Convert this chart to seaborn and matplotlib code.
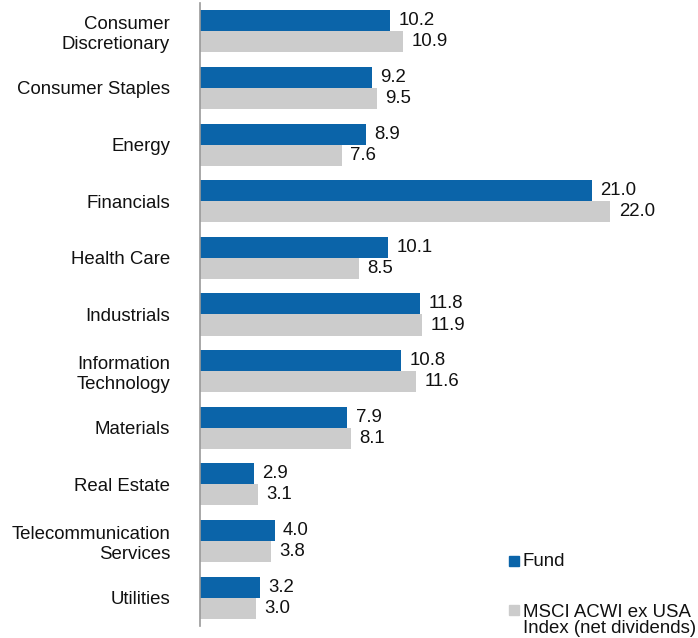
import matplotlib
matplotlib.use("Agg")
import matplotlib.pyplot as plt
from matplotlib.patches import Rectangle
import seaborn as sns
import pandas as pd

sectors = ["Consumer\nDiscretionary", "Consumer Staples", "Energy", "Financials",
           "Health Care", "Industrials", "Information\nTechnology", "Materials",
           "Real Estate", "Telecommunication\nServices", "Utilities"]
fund = [10.2, 9.2, 8.9, 21.0, 10.1, 11.8, 10.8, 7.9, 2.9, 4.0, 3.2]
index = [10.9, 9.5, 7.6, 22.0, 8.5, 11.9, 11.6, 8.1, 3.1, 3.8, 3.0]
series = ["Fund", "MSCI ACWI ex USA\nIndex (net dividends)"]
colors = ["#0b64a9", "#cccccc"]

df = pd.DataFrame({
    "sector": sectors * 2,
    "value": fund + index,
    "series": [series[0]] * len(sectors) + [series[1]] * len(sectors),
})

sns.set_theme(style="white")
plt.rcParams["font.family"] = ["Liberation Sans", "DejaVu Sans"]
FS = 13.4

fig = plt.figure(figsize=(6.98, 6.38), dpi=100)
ax = fig.add_axes([200 / 698, 12 / 638, 1 - 200 / 698, 623 / 638])

sns.barplot(data=df, x="value", y="sector", hue="series", palette=colors,
            orient="h", width=0.742, legend=False, ax=ax, saturation=1,
            linewidth=0, edgecolor="none")

for cont in ax.containers:
    ax.bar_label(cont, fmt="%.1f", padding=6, fontsize=FS, color="#111111")

ax.set_xlim(0, 26.7)
ax.set_ylim(10.5, -0.5)
ax.set_xlabel("")
ax.set_ylabel("")
ax.set_xticks([])
for s in ["top", "right", "bottom"]:
    ax.spines[s].set_visible(False)
ax.spines["left"].set_color("#999999")
ax.spines["left"].set_linewidth(1.2)
ax.tick_params(axis="y", length=0, pad=21.5, labelsize=FS, labelcolor="#111111")

# legend
fig.add_artist(Rectangle((509 / 698, 1 - 566 / 638), 10 / 698, 10 / 638,
                         transform=fig.transFigure, color=colors[0]))
fig.add_artist(Rectangle((509 / 698, 1 - 615 / 638), 10 / 698, 10 / 638,
                         transform=fig.transFigure, color=colors[1]))
fig.text(523 / 698, 1 - 566 / 638, series[0], fontsize=FS, va="baseline", color="#111111")
lines = series[1].split("\n")
fig.text(523 / 698, 1 - 617 / 638, lines[0], fontsize=FS, va="baseline", color="#111111")
fig.text(523 / 698, 1 - 633 / 638, lines[1], fontsize=FS, va="baseline", color="#111111")

fig.savefig("out.png", dpi=100)
